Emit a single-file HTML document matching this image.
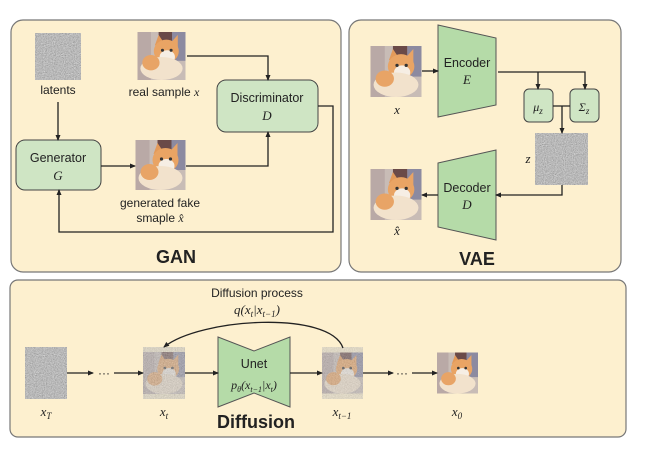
<!DOCTYPE html>
<html><head><meta charset="utf-8"><style>
html,body{margin:0;padding:0;background:#fff;width:660px;height:456px;overflow:hidden}
svg text{font-family:"Liberation Sans","DejaVu Sans",sans-serif;fill:#222}
.m{font-family:"Liberation Serif",serif;font-style:italic}
</style></head><body>
<svg width="660" height="456" viewBox="0 0 660 456" xmlns="http://www.w3.org/2000/svg">
<defs>
<filter id="nz" x="0" y="0" width="100%" height="100%">
<feTurbulence type="fractalNoise" baseFrequency="0.9" numOctaves="2" seed="3"/>
<feColorMatrix type="matrix" values="0.3 0.3 0.3 0 0.03 0.3 0.3 0.3 0 0.03 0.3 0.3 0.3 0 0.03 0 0 0 0 1"/>
</filter>
<symbol id="cat" viewBox="0 0 50 50">
<rect width="50" height="50" fill="#c8bcb6"/>
<rect x="0" y="0" width="14" height="50" fill="#b9a9a6"/>
<rect x="36" y="0" width="14" height="30" fill="#8c8aa0"/>
<rect x="22" y="0" width="14" height="10" fill="#6a4a48"/>
<polygon points="18,14 22,3 28,12" fill="#e39a5a"/>
<polygon points="34,12 42,3 42,16" fill="#e8a466"/>
<ellipse cx="30" cy="20" rx="13" ry="12" fill="#e9a464"/>
<ellipse cx="31" cy="26" rx="8" ry="7" fill="#f6eee4"/>
<ellipse cx="25" cy="38" rx="22" ry="12" fill="#f2e2cc"/>
<ellipse cx="14" cy="32" rx="9" ry="8" fill="#e8a466"/>
<circle cx="26" cy="19" r="1.6" fill="#333"/><circle cx="35" cy="19" r="1.6" fill="#333"/>
</symbol>
<marker id="ar" markerWidth="6" markerHeight="6" refX="5" refY="3" orient="auto" markerUnits="userSpaceOnUse"><path d="M0,0.5 L6,3 L0,5.5z" fill="#222"/></marker>
</defs>
<g stroke="#777" stroke-width="1.2" fill="#fdf0cf">
<rect x="11" y="20" width="330" height="252" rx="12"/>
<rect x="349" y="20" width="272" height="252" rx="12"/>
<rect x="10" y="280" width="616" height="157" rx="8"/>
</g>
<!-- GAN -->
<rect x="35" y="33" width="46" height="47" filter="url(#nz)"/>
<text x="58" y="94" font-size="12" text-anchor="middle">latents</text>
<use href="#cat" x="136" y="32" width="51" height="48"/>
<text x="164" y="96" font-size="12" text-anchor="middle">real sample <tspan class="m">x</tspan></text>
<use href="#cat" x="135" y="140" width="51" height="50"/>
<text x="160" y="207" font-size="12" text-anchor="middle">generated fake</text>
<text x="160" y="222" font-size="12" text-anchor="middle">smaple <tspan class="m">x̂</tspan></text>
<rect x="217" y="80" width="101" height="52" rx="9" fill="#cfe5c4" stroke="#444"/>
<text x="267" y="102" font-size="12.5" text-anchor="middle">Discriminator</text>
<text x="267" y="120" font-size="13" text-anchor="middle" class="m">D</text>
<rect x="16" y="140" width="85" height="50" rx="9" fill="#cfe5c4" stroke="#444"/>
<text x="58" y="162" font-size="12.5" text-anchor="middle">Generator</text>
<text x="58" y="180" font-size="13" text-anchor="middle" class="m">G</text>
<g stroke="#222" stroke-width="1.3" fill="none">
<path d="M58 102 V140" marker-end="url(#ar)"/>
<path d="M101 166 H135" marker-end="url(#ar)"/>
<path d="M187 56 H268 V80" marker-end="url(#ar)"/>
<path d="M186 166 H268 V132" marker-end="url(#ar)"/>
<path d="M318 106 H333 V232 H59 V190" marker-end="url(#ar)"/>
</g>
<text x="176" y="263" font-size="18" font-weight="bold" text-anchor="middle">GAN</text>
<!-- VAE -->
<use href="#cat" x="370" y="46" width="52" height="51"/>
<text x="397" y="114" font-size="13" text-anchor="middle" class="m">x</text>
<polygon points="438,25 496,38 496,105 438,117" fill="#b5dba8" stroke="#555"/>
<text x="467" y="67" font-size="12.5" text-anchor="middle">Encoder</text>
<text x="467" y="84" font-size="13" text-anchor="middle" class="m">E</text>
<rect x="524" y="89" width="29" height="33" rx="5" fill="#cfe5c4" stroke="#444"/>
<text x="538" y="111" font-size="12" text-anchor="middle" class="m">μ<tspan font-size="9" dy="3">z</tspan></text>
<rect x="570" y="89" width="29" height="33" rx="5" fill="#cfe5c4" stroke="#444"/>
<text x="584" y="111" font-size="12" text-anchor="middle" class="m">Σ<tspan font-size="9" dy="3">z</tspan></text>
<rect x="535" y="133" width="53" height="52" filter="url(#nz)"/>
<text x="528" y="163" font-size="13" text-anchor="middle" class="m">z</text>
<polygon points="438,163 496,150 496,240 438,227" fill="#b5dba8" stroke="#555"/>
<text x="467" y="192" font-size="12.5" text-anchor="middle">Decoder</text>
<text x="467" y="209" font-size="13" text-anchor="middle" class="m">D</text>
<use href="#cat" x="370" y="169" width="52" height="51"/>
<text x="397" y="235" font-size="13" text-anchor="middle" class="m">x̂</text>
<g stroke="#222" stroke-width="1.3" fill="none">
<path d="M422 71 H438" marker-end="url(#ar)"/>
<path d="M498 72 H585 V89" marker-end="url(#ar)"/>
<path d="M538 72 V89" marker-end="url(#ar)"/>
<path d="M553 106 H570"/>
<path d="M562 106 V133" marker-end="url(#ar)"/>
<path d="M562 185 V195 H496" marker-end="url(#ar)"/>
<path d="M438 195 H422" marker-end="url(#ar)"/>
</g>
<text x="477" y="265" font-size="18" font-weight="bold" text-anchor="middle">VAE</text>
<!-- Diffusion -->
<text x="257" y="297" font-size="12" text-anchor="middle">Diffusion process</text>
<text x="257" y="314" font-size="13" text-anchor="middle" class="m">q(x<tspan font-size="9" dy="3">t</tspan><tspan dy="-3">|x</tspan><tspan font-size="9" dy="3">t−1</tspan><tspan dy="-3">)</tspan></text>
<rect x="25" y="347" width="42" height="52" filter="url(#nz)"/>
<use href="#cat" x="143" y="347" width="42" height="52"/>
<rect x="143" y="347" width="42" height="52" filter="url(#nz)" opacity="0.55"/>
<use href="#cat" x="322" y="347" width="41" height="52"/>
<rect x="322" y="347" width="41" height="52" filter="url(#nz)" opacity="0.45"/>
<use href="#cat" x="437" y="347" width="41" height="52"/>
<polygon points="218,337 254,351 290,337 290,407 254,393 218,407" fill="#b5dba8" stroke="#555"/>
<text x="254" y="368" font-size="12.5" text-anchor="middle">Unet</text>
<text x="254" y="389" font-size="12" text-anchor="middle" class="m">p<tspan font-size="8" dy="3">θ</tspan><tspan dy="-3">(x</tspan><tspan font-size="8" dy="3">t−1</tspan><tspan dy="-3">|x</tspan><tspan font-size="8" dy="3">t</tspan><tspan dy="-3">)</tspan></text>
<g stroke="#222" stroke-width="1.3" fill="none">
<path d="M67 373 H93" marker-end="url(#ar)"/>
<path d="M114 373 H143" marker-end="url(#ar)"/>
<path d="M185 373 H218" marker-end="url(#ar)"/>
<path d="M290 373 H322" marker-end="url(#ar)"/>
<path d="M363 373 H393" marker-end="url(#ar)"/>
<path d="M412 373 H437" marker-end="url(#ar)"/>
<path d="M343 348 C330 310 200 318 164 347" marker-end="url(#ar)"/>
</g>
<text x="104" y="377" font-size="12" text-anchor="middle">···</text>
<text x="402" y="377" font-size="12" text-anchor="middle">···</text>
<text x="46" y="416" font-size="13" text-anchor="middle" class="m">x<tspan font-size="9" dy="3">T</tspan></text>
<text x="164" y="416" font-size="13" text-anchor="middle" class="m">x<tspan font-size="9" dy="3">t</tspan></text>
<text x="342" y="416" font-size="13" text-anchor="middle" class="m">x<tspan font-size="9" dy="3">t−1</tspan></text>
<text x="457" y="416" font-size="13" text-anchor="middle" class="m">x<tspan font-size="9" dy="3">0</tspan></text>
<text x="256" y="428" font-size="18" font-weight="bold" text-anchor="middle">Diffusion</text>
</svg>
</body></html>
